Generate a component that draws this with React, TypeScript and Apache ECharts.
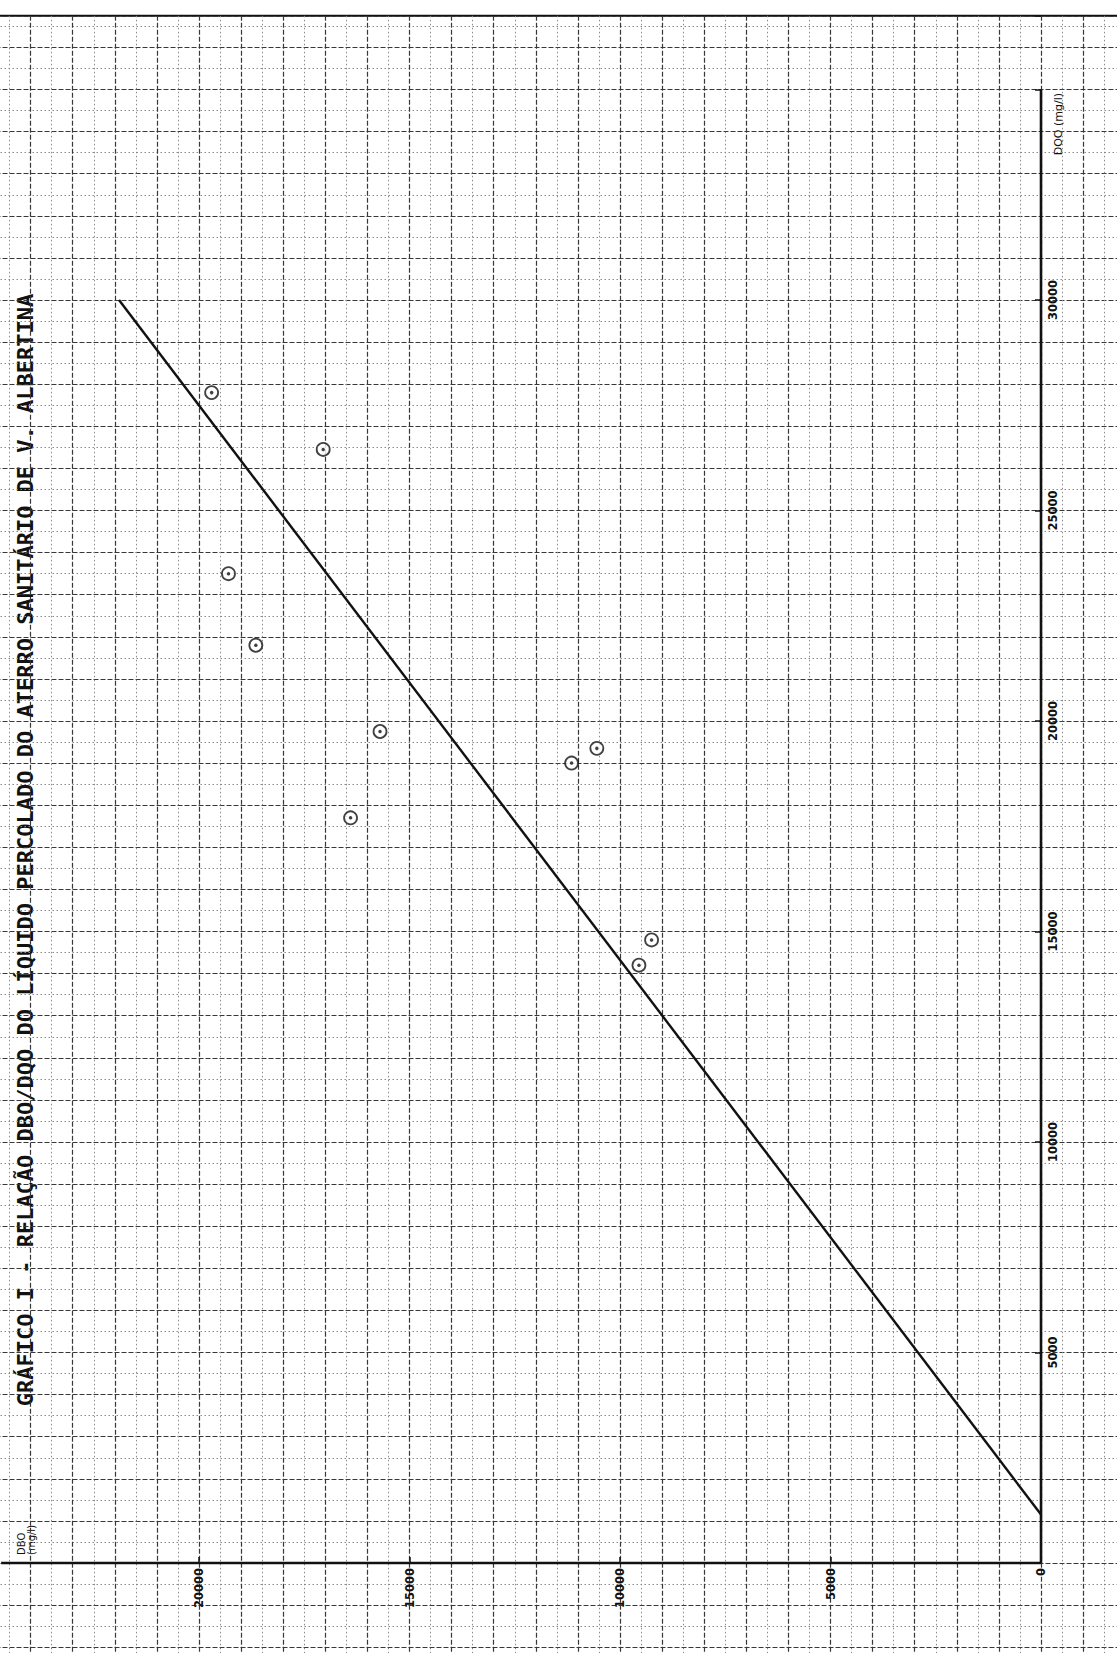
import React, { useEffect, useRef } from "react";
import * as echarts from "echarts";

// ---- Texts ----
const TITLE =
  "GRÁFICO I - RELAÇÃO DBO/DQO DO LÍQUIDO PERCOLADO DO ATERRO SANITÁRIO DE V. ALBERTINA";
const DBO_NAME = "DBO\n(mg/l)";
const DQO_NAME = "DQO (mg/l)";

// ---- Data (DBO on horizontal axis, DQO on vertical axis; chart drawn rotated) ----
const dboValues = [19700, 17050, 19300, 18650, 15700, 16400, 11150, 10550, 9250, 9550];
const dqoValues = [27800, 26450, 23500, 21800, 19750, 17700, 19000, 19350, 14800, 14200];

// regression line end points
const fitDbo = [0, 21900];
const fitDqo = [1150, 30000];

// tick labels
const dboTickLabels = [0, 5000, 10000, 15000, 20000];
const dqoTickLabels = [5000, 10000, 15000, 20000, 25000, 30000];

// extent of the drawn axis lines (data units)
const dboAxisLineEnd = 24700;
const dqoAxisLineEnd = 35000;

// axis ranges
const X_MIN = -5000;
const X_MAX = 25000;
const Y_MIN = -5000;
const Y_MAX = 36750;

// ---- Layout (pixels) ----
const W = 1117;
const H = 1653;
const X0 = 1041; // pixel of DBO = 0
const Y0 = 1563; // pixel of DQO = 0
const K = 0.0421; // px per mg/l

export default function App() {
  const ref = useRef<HTMLDivElement>(null);

  useEffect(() => {
    document.body.style.margin = "0";
    document.body.style.background = "#ffffff";
    if (!ref.current) return;
    const chart = echarts.init(ref.current, undefined, { renderer: "svg" });

    const gridLeft = X0 - X_MAX * K;
    const gridWidth = (X_MAX - X_MIN) * K;
    const gridTop = Y0 - Y_MAX * K;
    const gridHeight = (Y_MAX - Y_MIN) * K;
    // distance between the grid edge and the zero line
    const xAxisOffset = -(0 - Y_MIN) * K;
    const yAxisOffset = -(0 - X_MIN) * K;

    const ink = "#111111";
    const labelFont = {
      fontFamily: "DejaVu Sans",
      fontSize: 11.5,
      fontWeight: "bold" as const,
      color: ink,
    };

    const majorLine = { color: "#383838", width: 1.2, type: [5, 2] as number[] };
    const minorLine = { color: "#8a8a8a", width: 1, type: [1.5, 2.5] as number[] };

    const points = dboValues.map((d, i) => [d, dqoValues[i]]);
    const fit = fitDbo.map((d, i) => [d, fitDqo[i]]);

    chart.setOption({
      animation: false,
      backgroundColor: "#ffffff",
      grid: {
        left: gridLeft,
        top: gridTop,
        width: gridWidth,
        height: gridHeight,
        containLabel: false,
        outerBoundsMode: "none",
        show: true,
        borderColor: ink,
        borderWidth: 2,
        backgroundColor: "transparent",
      },
      xAxis: [
        {
          type: "value",
          inverse: true,
          min: X_MIN,
          max: X_MAX,
          interval: 5000,
          position: "bottom",
          offset: xAxisOffset,
          axisLine: { show: false, onZero: false },
          axisTick: { show: true, inside: true, length: 6, lineStyle: { color: ink, width: 1.5 } },
          axisLabel: {
            ...labelFont,
            rotate: 90,
            margin: 5,
            formatter: (v: number) => (dboTickLabels.includes(v) ? String(v) : ""),
          },
          splitLine: { show: false },
        },
        {
          type: "value",
          inverse: true,
          min: X_MIN,
          max: X_MAX,
          interval: 1000,
          position: "top",
          axisLine: { show: false, onZero: false },
          axisTick: { show: false },
          axisLabel: { show: false },
          splitLine: { show: true, lineStyle: majorLine },
          minorTick: { show: false, splitNumber: 2 },
          minorSplitLine: { show: true, lineStyle: minorLine },
        },
      ],
      yAxis: [
        {
          type: "value",
          min: Y_MIN,
          max: Y_MAX,
          interval: 5000,
          position: "right",
          offset: yAxisOffset,
          axisLine: { show: false, onZero: false },
          axisTick: { show: true, inside: true, length: 6, lineStyle: { color: ink, width: 1.5 } },
          axisLabel: {
            ...labelFont,
            rotate: 90,
            margin: 6,
            formatter: (v: number) => (dqoTickLabels.includes(v) ? String(v) : ""),
          },
          splitLine: { show: false },
        },
        {
          type: "value",
          min: Y_MIN,
          max: Y_MAX,
          interval: 1000,
          position: "left",
          axisLine: { show: false, onZero: false },
          axisTick: { show: false },
          axisLabel: { show: false },
          splitLine: { show: true, lineStyle: majorLine },
          minorTick: { show: false, splitNumber: 2 },
          minorSplitLine: { show: true, lineStyle: minorLine },
        },
      ],
      series: [
        {
          type: "line",
          name: "eixo DBO",
          data: [
            [dboAxisLineEnd, 0],
            [0, 0],
          ],
          symbol: "none",
          silent: true,
          lineStyle: { color: ink, width: 2.6 },
        },
        {
          type: "line",
          name: "eixo DQO",
          data: [
            [0, 0],
            [0, dqoAxisLineEnd],
          ],
          symbol: "none",
          silent: true,
          lineStyle: { color: ink, width: 2.6 },
        },
        {
          type: "line",
          name: "reta",
          data: fit,
          symbol: "none",
          silent: true,
          lineStyle: { color: ink, width: 2.4 },
        },
        {
          type: "scatter",
          name: "amostras",
          data: points,
          symbol: "circle",
          symbolSize: 13,
          itemStyle: { color: "#ffffff", borderColor: ink, borderWidth: 1.8 },
        },
        {
          type: "scatter",
          name: "centros",
          data: points,
          symbol: "circle",
          symbolSize: 3.5,
          itemStyle: { color: ink },
        },
      ],
      graphic: [
        {
          type: "text",
          x: 25,
          y: 850,
          rotation: Math.PI / 2,
          style: {
            text: TITLE,
            fontFamily: "DejaVu Sans Mono",
            fontSize: 22,
            fontWeight: "bold",
            fill: ink,
            align: "center",
            verticalAlign: "middle",
          },
        },
        {
          type: "text",
          x: 1058,
          y: 93,
          rotation: Math.PI / 2,
          style: {
            text: DQO_NAME,
            fontFamily: "DejaVu Sans",
            fontSize: 11,
            fill: ink,
            align: "right",
            verticalAlign: "middle",
          },
        },
        {
          type: "text",
          x: 16,
          y: 1555,
          rotation: Math.PI / 2,
          style: {
            text: DBO_NAME,
            fontFamily: "DejaVu Sans",
            fontSize: 10,
            lineHeight: 10,
            fill: ink,
            align: "left",
            verticalAlign: "top",
          },
        },
      ],
    });

    return () => chart.dispose();
  }, []);

  return <div ref={ref} style={{ width: W, height: H }} />;
}
